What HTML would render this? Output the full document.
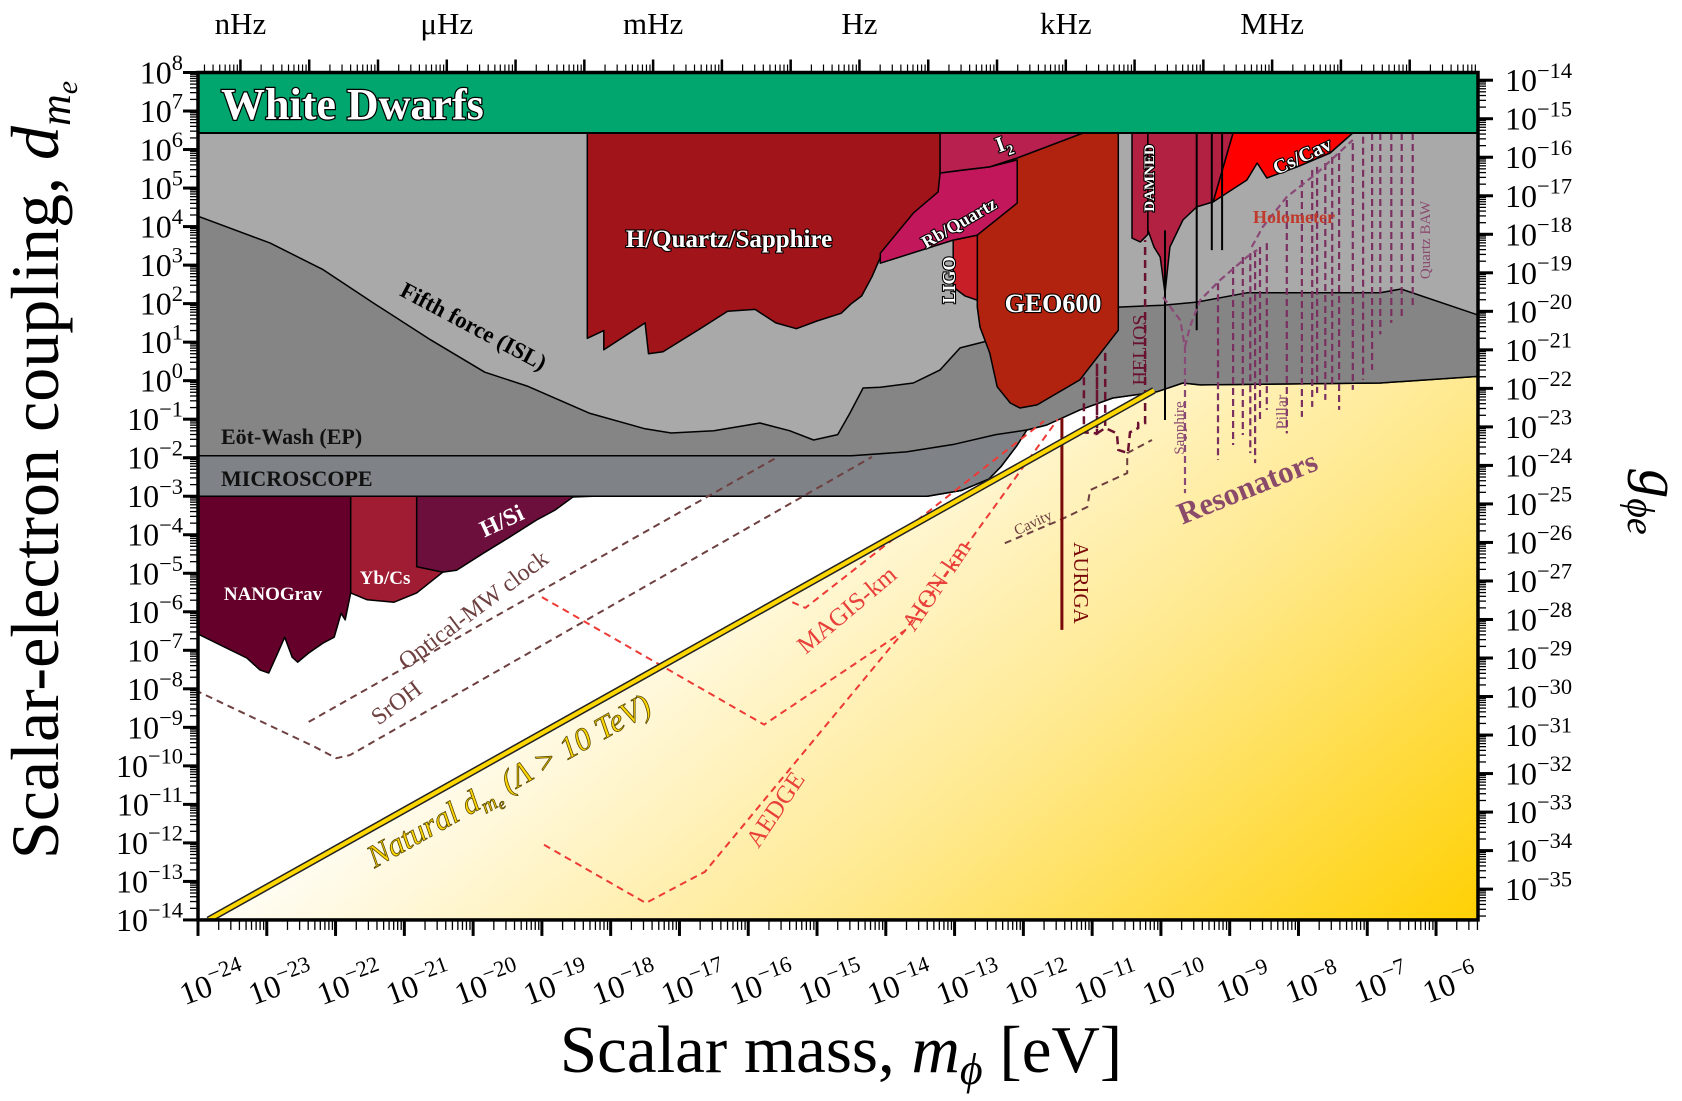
<!DOCTYPE html>
<html><head><meta charset="utf-8"><title>Scalar-electron coupling</title>
<style>
html,body{margin:0;padding:0;background:#fff;}
svg{display:block;font-family:"Liberation Serif",serif;}
.wl{fill:#fff;stroke:#000;stroke-width:2.2px;paint-order:stroke;font-weight:bold;}
</style></head>
<body>
<svg id="chart" width="1682" height="1101" viewBox="0 0 1682 1101" xmlns="http://www.w3.org/2000/svg">
<defs>
<clipPath id="plotclip"><rect x="198" y="72.5" width="1280" height="847.5"/></clipPath>
<linearGradient id="ygrad" gradientUnits="userSpaceOnUse" x1="760" y1="420" x2="1300" y2="1080">
<stop offset="0" stop-color="#ffffff"/><stop offset="0.5" stop-color="#ffe98f"/><stop offset="1" stop-color="#ffd000"/>
</linearGradient>
</defs>
<rect x="0" y="0" width="1682" height="1101" fill="#fff"/>
<g id="regions" clip-path="url(#plotclip)"></g>
<g id="axes"></g>
<g id="labels">
<text x="221" y="119" font-size="44" class="wl" style="stroke-width:2.5px">White Dwarfs</text>
<text x="729" y="247" font-size="25" text-anchor="middle" class="wl">H/Quartz/Sapphire</text>
<text transform="translate(470,333) rotate(28)" font-size="23" font-weight="bold" text-anchor="middle" fill="#000">Fifth force (ISL)</text>
<text x="221" y="444" font-size="22" font-weight="bold" fill="#111">Eöt-Wash (EP)</text>
<text x="221" y="486" font-size="22" font-weight="bold" fill="#111">MICROSCOPE</text>
<text x="273" y="600" font-size="19" text-anchor="middle" class="wl" style="stroke-width:0">NANOGrav</text>
<text x="385" y="584" font-size="19" text-anchor="middle" class="wl" style="stroke-width:0">Yb/Cs</text>
<text transform="translate(505,528) rotate(-25)" font-size="24" text-anchor="middle" class="wl" style="stroke-width:0">H/Si</text>
<text transform="translate(478,616) rotate(-37)" font-size="24" text-anchor="middle" fill="#6e4040">Optical-MW clock</text>
<text transform="translate(401,709) rotate(-37)" font-size="24" text-anchor="middle" fill="#6e4040">SrOH</text>
<text transform="translate(514,790) rotate(-29.3)" font-size="32" font-style="italic" text-anchor="middle" fill="#ffd700" stroke="#5a4a00" stroke-width="0.8">Natural d<tspan font-size="21" dy="7">m</tspan><tspan font-size="15" dy="4">e</tspan><tspan dy="-11"> (Λ &gt; 10 TeV)</tspan></text>
<text transform="translate(852,616) rotate(-40)" font-size="25" text-anchor="middle" fill="#e8403a">MAGIS-km</text>
<text transform="translate(943,590) rotate(-56)" font-size="25" text-anchor="middle" fill="#e8403a">AION-km</text>
<text transform="translate(782,814) rotate(-56)" font-size="25" text-anchor="middle" fill="#e8403a">AEDGE</text>
<text transform="translate(1074,583) rotate(90)" font-size="21" text-anchor="middle" fill="#7a0a0a">AURIGA</text>
<text transform="translate(1035,527) rotate(-25)" font-size="15" text-anchor="middle" fill="#6e4040">Cavity</text>
<text x="1053" y="312" font-size="26" text-anchor="middle" class="wl">GEO600</text>
<text transform="translate(955,280) rotate(-90)" font-size="18" text-anchor="middle" class="wl">LIGO</text>
<text transform="translate(962,228) rotate(-30)" font-size="18" text-anchor="middle" class="wl">Rb/Quartz</text>
<text transform="translate(1006,150) rotate(-20)" font-size="22" text-anchor="middle" class="wl">I<tspan font-size="14" dy="6">2</tspan></text>
<text transform="translate(1154,178) rotate(-90)" font-size="15" text-anchor="middle" class="wl">DAMNED</text>
<text transform="translate(1146,350) rotate(-90)" font-size="20" text-anchor="middle" fill="#6a1030">HELIOS</text>
<text transform="translate(1305,162) rotate(-25)" font-size="20" text-anchor="middle" class="wl">Cs/Cav</text>
<text x="1294" y="223" font-size="18" font-weight="bold" text-anchor="middle" fill="#c0392b">Holometer</text>
<text transform="translate(1184,428) rotate(-90)" font-size="15" text-anchor="middle" fill="#8a4a70">Sapphire</text>
<text transform="translate(1287,412) rotate(-90)" font-size="16" text-anchor="middle" fill="#8a4a70">Pillar</text>
<text transform="translate(1430,240) rotate(-90)" font-size="15" text-anchor="middle" fill="#8a4a70">Quartz BAW</text>
<text transform="translate(1251,497) rotate(-22)" font-size="31" font-weight="bold" text-anchor="middle" fill="#8a4a6a">Resonators</text>
</g>
<text transform="translate(58,470) rotate(-90)" font-size="68" text-anchor="middle" fill="#000">Scalar-electron coupling, <tspan font-style="italic">d</tspan><tspan font-style="italic" font-size="44" dy="12">m</tspan><tspan font-style="italic" font-size="30" dy="7">e</tspan></text>
<text x="841" y="1072" font-size="67" text-anchor="middle" fill="#000">Scalar mass, <tspan font-style="italic">m</tspan><tspan font-style="italic" font-size="44" dy="12">ϕ</tspan><tspan dy="-12"> [eV]</tspan></text>
<text transform="translate(1640,502) rotate(90)" font-size="58" font-style="italic" text-anchor="middle" fill="#000">g<tspan font-size="38" dy="12">ϕe</tspan></text>
</svg>
<script>
// ---- data (log10 mass [eV], log10 coupling) ----
const natIntercept = 9.85;
const topBound = 6.43;
const lowerBound = [[-24.2,-3],[-13.4,-3],[-12.9,-2.85],[-12.5,-2.55],[-12.33,-2.24],[-12.1,-1.7],[-11.95,-1.28],[-11.66,-1.15],[-11.18,-0.76],[-10.7,-0.45],[-10.06,-0.29],[-9.68,-0.06],[-9.43,-0.11],[-6.81,-0.06],[-5.3,0.12]];
const fifthForce = [[-24.2,4.4],[-24,4.27],[-22.95,3.57],[-22.18,2.88],[-21.4,1.96],[-20.61,1.05],[-19.83,0.22],[-19.2,-0.15],[-18.3,-0.85],[-17.5,-1.25],[-17.12,-1.36],[-16.5,-1.3],[-16.0,-1.15],[-15.83,-1.1],[-15.4,-1.3],[-15.05,-1.54],[-14.7,-1.4],[-14.52,-0.84],[-14.33,-0.19],[-14.08,-0.17],[-13.6,-0.06],[-13.21,0.28],[-12.92,0.85],[-12.59,1.0],[-11.5,1.5],[-10.62,1.91],[-9.97,1.96],[-9.48,2.04],[-8.75,2.28],[-6.81,2.28],[-6.51,2.38],[-5.3,1.65]];
const microTop = [[-24.2,-1.95],[-14.5,-1.95],[-13.7,-1.85],[-13.0,-1.65],[-12.4,-1.4],[-11.95,-1.28]];
const hQuartz = [[-18.34,6.43],[-13.21,6.43],[-13.21,4.9],[-14.08,3.2],[-14.2,2.7],[-14.35,2.2],[-14.5,2.0],[-14.65,1.75],[-15.0,1.55],[-15.3,1.35],[-15.6,1.5],[-15.9,1.85],[-16.3,1.8],[-16.7,1.35],[-17.24,0.75],[-17.45,0.7],[-17.5,1.5],[-18.1,0.8],[-18.1,1.3],[-18.34,1.1]];
const rbQuartz = [[-14.08,3.31],[-14.08,3.05],[-13.02,3.65],[-12.67,3.78],[-12.09,4.61],[-12.09,5.73],[-12.49,5.55],[-13.21,5.39],[-13.24,4.9],[-13.6,4.35]];
const iodine = [[-13.21,6.43],[-11.13,6.43],[-12.09,5.78],[-12.49,5.55],[-12.88,5.47],[-13.21,5.39]];
const ligo = [[-13.02,3.65],[-12.67,3.78],[-12.67,2.09],[-12.85,2.2],[-13.02,2.43]];
const geo600 = [[-12.67,6.43],[-10.62,6.43],[-10.62,1.31],[-11.18,0.02],[-11.8,-0.63],[-12.05,-0.71],[-12.19,-0.58],[-12.38,-0.16],[-12.49,0.72],[-12.63,1.39],[-12.67,1.91]];
const damned = [[-10.42,6.43],[-10.19,6.43],[-10.19,3.8],[-10.3,3.6],[-10.42,3.7]];
const crimson = [[-10.19,6.43],[-8.95,6.43],[-9.24,4.64],[-9.48,4.51],[-9.68,4.17],[-9.87,3.47],[-9.94,2.27],[-10.01,3.21],[-10.1,3.47],[-10.19,3.91]];
const csCav = [[-9.24,4.64],[-8.95,6.43],[-7.21,6.43],[-7.54,5.91],[-8.02,5.55],[-8.46,5.26],[-8.6,5.65],[-8.75,5.21]];
const nanograv = [[-24.2,-3],[-21.78,-3],[-21.78,-5.51],[-21.86,-6.21],[-21.92,-6.04],[-22.02,-6.66],[-22.18,-6.81],[-22.39,-7.07],[-22.55,-7.31],[-22.63,-7.18],[-22.74,-6.66],[-22.84,-7.07],[-22.97,-7.59],[-23.1,-7.51],[-23.29,-7.2],[-23.61,-6.92],[-24.2,-6.4]];
const ybCs = [[-21.78,-3],[-20.82,-3],[-20.82,-4.83],[-20.44,-4.97],[-20.82,-5.51],[-21.15,-5.75],[-21.54,-5.69],[-21.78,-5.51]];
const hSi = [[-20.82,-3],[-18.26,-3],[-18.55,-3.02],[-18.81,-3.36],[-19.08,-3.62],[-19.47,-4.06],[-19.85,-4.48],[-20.24,-4.92],[-20.44,-4.97],[-20.82,-4.83]];
const opticalClock = [[-22.39,-8.86],[-15.57,-1.98]];
const srOH = [[-24.2,-7.9],[-22.31,-9.5],[-21.99,-9.8],[-21.79,-9.72],[-14.2,-1.98]];
const magis = [[-19.0,-5.62],[-15.77,-8.93],[-13.72,-6.48],[-11.5,-1.0]];
const aion = [[-15.36,-5.75],[-15.17,-5.9],[-11.7,-1.05]];
const aedge = [[-18.97,-12.05],[-17.49,-13.56],[-16.63,-12.75],[-13.94,-6.94],[-13.72,-6.48]];
const cavity = [[-12.27,-4.22],[-11.47,-3.62],[-11.07,-3.28],[-11.03,-2.84],[-10.49,-2.4],[-10.49,-1.88],[-10.13,-1.54]];
const helios = [[-11.12,0.09],[-11.12,-1.34],[-10.93,-1.37],[-10.93,0.45],[-10.93,-1.37],[-10.81,-1.23],[-10.64,-1.37],[-10.62,-1.8],[-10.48,-1.88],[-10.45,-1.34],[-10.33,-1.23],[-10.33,-1.1],[-10.23,-1.1],[-10.23,3.65]];
const heliosExtra = [[-10.81,0.72],[-10.81,-1.23]];
const sapphireCurve = [[-9.97,2.17],[-9.72,1.57],[-9.65,0.87],[-9.65,-2.92]];
const sapphireCurve2 = [[-9.65,0.87],[-9.58,1.39],[-9.43,2.09],[-9.14,2.61],[-8.75,3.21],[-8.6,3.39]];
const pillarCurve = [[-8.68,3.47],[-8.52,3.99],[-8.17,4.77],[-7.73,5.39],[-7.21,6.25]];
const resLm  = [-9.17,-8.95,-8.81,-8.70,-8.63,-8.56,-8.46,-8.17,-7.95,-7.80,-7.73,-7.61,-7.51,-7.41,-7.21,-7.06,-6.93,-6.81,-6.65,-6.5,-6.34];
const resTop = [2.53,2.95,3.21,3.31,3.39,3.47,3.57,4.69,5.21,5.47,5.55,5.65,5.81,5.91,6.17,6.33,6.43,6.43,6.43,6.43,6.43];
const resBot = [-2.06,-1.67,-1.41,-1.88,-2.14,-1.02,-0.76,-1.37,-0.94,-0.68,-0.32,-0.5,-0.16,-0.76,-0.24,0.02,0.28,1.2,1.5,1.6,1.9];
const spikeLm  = [-9.94,-9.48,-9.26,-9.11];
const spikeTop = [3.9,6.43,6.43,6.43];
const spikeBot = [-1.02,1.31,3.39,3.39];
const auriga = [[-11.44,-0.97],[-11.44,-6.47]];
const yTicks = [8,7,6,5,4,3,2,1,0,-1,-2,-3,-4,-5,-6,-7,-8,-9,-10,-11,-12,-13,-14];
const xTicks = [-24,-23,-22,-21,-20,-19,-18,-17,-16,-15,-14,-13,-12,-11,-10,-9,-8,-7,-6];
const gTicks = [-14,-15,-16,-17,-18,-19,-20,-21,-22,-23,-24,-25,-26,-27,-28,-29,-30,-31,-32,-33,-34,-35];
const gOffset = 21.8;
const freqNames = ['nHz','μHz','mHz','Hz','kHz','MHz'];
const freqExp = [-9,-6,-3,0,3,6];
const hzToEv = -14.383;

const NS='http://www.w3.org/2000/svg';
const LM0=-24, LM1=-5.39, LD0=-14, LD1=8;
const X=lm=>198+(lm-LM0)*68.78;
const Y=ld=>72.5+(LD1-ld)*38.52;
const gR=document.getElementById('regions');
const gA=document.getElementById('axes');
function mk(tag,parent){const e=document.createElementNS(NS,tag);parent.appendChild(e);return e;}
function pts(a){return a.map(q=>X(q[0]).toFixed(1)+','+Y(q[1]).toFixed(1)).join(' ');}
function region(a,fill,name,sw){
  const p=mk('polygon',gR);
  p.setAttribute('points',pts(a));
  p.setAttribute('fill',fill);
  p.setAttribute('stroke','#000');
  p.setAttribute('stroke-width',sw===undefined?1.5:sw);
  p.setAttribute('stroke-linejoin','round');
  
  
  return p;
}
function line(a,color,w,dash,name){
  const p=mk('polyline',gR);
  p.setAttribute('points',pts(a));
  p.setAttribute('fill','none');
  p.setAttribute('stroke',color);
  p.setAttribute('stroke-width',w);
  if(dash)p.setAttribute('stroke-dasharray',dash);
  
  
  return p;
}
const natStart=LD0-natIntercept;
const yellow=[[natStart,LD0],[-10.06,-10.06+natIntercept]].concat(lowerBound.filter(q=>q[0]>-10)).concat([[LM1+0.2,LD0-0.5],[natStart,LD0-0.5]]);
region(yellow,'url(#ygrad)','natural-region',0);
region([[LM0-0.3,topBound],[LM1+0.3,topBound]].concat(lowerBound.slice().reverse()),'#a9a9a9','fifth-force-region');
region(fifthForce.concat(lowerBound.slice().reverse()),'#858585','eot-wash-region');
region(microTop.concat(lowerBound.filter(q=>q[0]<=-11.95).reverse()),'#7f8287','microscope-region');
region(hQuartz,'#a11419','h-quartz-sapphire-region');
region(geo600,'#b1230f','geo600-region');
region(ligo,'#c81e28','ligo-region');
region(rbQuartz,'#c2185b','rb-quartz-region');
region(iodine,'#b8204f','iodine-region');
region(damned,'#b22142','damned-region');
region(crimson,'#b22142','crimson-region');
region(csCav,'#ff0000','cs-cav-region');
region(nanograv,'#65002b','nanograv-region');
region(ybCs,'#9f1c33','yb-cs-region');
region(hSi,'#6c0f3c','h-si-region');
for(let i=0;i<spikeLm.length;i++){
  const s=line([[spikeLm[i],spikeTop[i]],[spikeLm[i],spikeBot[i]]],'#000',2,null,'spike');
  
}
for(let i=0;i<resLm.length;i++){
  const r=line([[resLm[i],resTop[i]],[resLm[i],resBot[i]]],'#7a3060',2.2,'7,4','resonator');
  
}
line(sapphireCurve,'#8a4a78',2.2,'7,4','sapphire-curve');
line(sapphireCurve2,'#8a4a78',2.2,'7,4','sapphire-curve-2');
line(pillarCurve,'#8a4a78',2.2,'7,4','pillar-curve');
line(opticalClock,'#6e4040',2,'7,5','optical-mw-clock-line');
line(srOH,'#6e4040',2,'7,5','sroh-line');
line(magis,'#ee3a35',2,'7,5','magis-km-line');
line(aion,'#ee3a35',2,'7,5','aion-km-line');
line(aedge,'#ee3a35',2,'7,5','aedge-line');
line(cavity,'#6e4040',2,'7,5','cavity-line');
line(helios,'#6a1030',2.5,'8,5','helios-line');
line(heliosExtra,'#6a1030',2.5,'8,5','helios-line-2');
line(auriga,'#7a0a0a',3,null,'auriga-line');
line([[natStart,LD0],[-10.1,-10.1+natIntercept]],'#222',7,null,'natural-line-outline');
line([[natStart,LD0],[-10.1,-10.1+natIntercept]],'#ffd700',4,null,'natural-line');
region([[LM0-0.3,LD1+0.3],[LM1+0.3,LD1+0.3],[LM1+0.3,topBound],[LM0-0.3,topBound]],'#00a66e','white-dwarfs-region',2);

function tick(x1,y1,x2,y2,w,name){
  const t=mk('line',gA);
  t.setAttribute('x1',x1);t.setAttribute('y1',y1);t.setAttribute('x2',x2);t.setAttribute('y2',y2);
  t.setAttribute('stroke','#000');t.setAttribute('stroke-width',w);
  
  
}
function lbl(x,y,base,exp,anchor,size,rot){
  const t=mk('text',gA);
  t.setAttribute('x',x);t.setAttribute('y',y);
  t.setAttribute('text-anchor',anchor);t.setAttribute('font-size',size);
  if(rot)t.setAttribute('transform','rotate('+rot+' '+x+' '+y+')');
  const a=mk('tspan',t);a.textContent=base;
  const b=mk('tspan',t);b.setAttribute('dy',-size*0.42);b.setAttribute('font-size',size*0.7);
  b.textContent=String(exp).replace('-','−');
  return t;
}
const xL=X(LM0), xR=X(LM1), yT=Y(LD1), yB=Y(LD0);
const logs=[];for(let j=2;j<=9;j++)logs.push(Math.log10(j));
for(const n of yTicks){
  tick(xL-15,Y(n),xL,Y(n),3,'y-major-tick');
  const t=lbl(183,Y(n)+11,'10',n,'end',32);
  
  
  if(n>LD0)for(const l of logs){const yy=Y(n-1+l);tick(xL-8,yy,xL,yy,1.3,'y-minor-tick');}
}
for(const n of xTicks){
  tick(X(n),yB,X(n),yB+16,3,'x-major-tick');
  const t=lbl(X(n)+18,yB+74,'10',n,'middle',32,-20);
  
  
  for(const l of logs){const xx=X(n+l);if(xx<xR)tick(xx,yB,xx,yB+10,1.3,'x-minor-tick');}
}
for(const n of gTicks){
  const yy=Y(n+gOffset);
  tick(xR,yy,xR+15,yy,3,'g-major-tick');
  const t=lbl(1505,yy+11,'10',n,'start',32);
  
  
  for(const l of logs){const y2=Y(n-1+l+gOffset);if(y2<=yB)tick(xR,y2,xR+8,y2,1.3,'g-minor-tick');}
}
for(let k=-10;k<=10;k++){
  const lm=k+hzToEv;
  if(X(lm)>=xL&&X(lm)<=xR)tick(X(lm),yT-13,X(lm),yT,2.5,'freq-major-tick');
  for(const l of logs){const xx=X(lm+l);if(xx>=xL&&xx<=xR)tick(xx,yT-8,xx,yT,1.2,'freq-minor-tick');}
}
for(let i=0;i<freqNames.length;i++){
  const t=mk('text',gA);
  t.setAttribute('x',X(freqExp[i]+hzToEv));t.setAttribute('y',34);
  t.setAttribute('text-anchor','middle');t.setAttribute('font-size',31);
  t.textContent=freqNames[i];
  
  
}
const fr=mk('rect',gA);
fr.setAttribute('x',xL);fr.setAttribute('y',yT);fr.setAttribute('width',xR-xL);fr.setAttribute('height',yB-yT);
fr.setAttribute('fill','none');fr.setAttribute('stroke','#000');fr.setAttribute('stroke-width',3.5);


</script>
</body></html>
